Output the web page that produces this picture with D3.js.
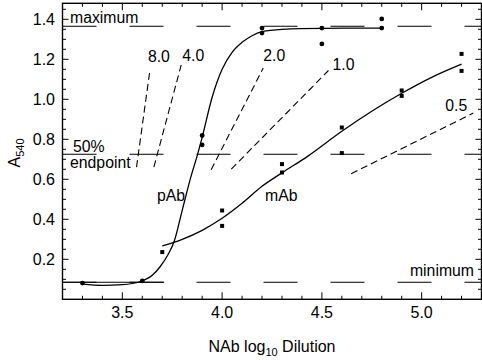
<!DOCTYPE html>
<html>
<head>
<meta charset="utf-8">
<script src="https://cdn.jsdelivr.net/npm/d3@7"></script>
<style>
  body { margin: 0; background: #fff; }
  svg { display: block; font-family: "Liberation Sans", Arial, Helvetica, sans-serif; }
</style>
</head>
<body>
<svg id="chart" width="482" height="360"></svg>
<script>
// ---- data ----
const xTicks = [3.5, 4.0, 4.5, 5.0];
const yTicks = [0.2, 0.4, 0.6, 0.8, 1.0, 1.2, 1.4];

// pAb measured points (circles)
const pAbX = [3.3, 3.6, 3.9, 3.9, 4.2, 4.2, 4.5, 4.5, 4.8, 4.8];
const pAbY = [0.081, 0.092, 0.819, 0.772, 1.356, 1.331, 1.356, 1.277, 1.402, 1.356];

// mAb measured points (squares)
const mAbX = [3.7, 4.0, 4.0, 4.3, 4.3, 4.6, 4.6, 4.9, 4.9, 5.2, 5.2];
const mAbY = [0.236, 0.444, 0.367, 0.676, 0.634, 0.859, 0.731, 1.044, 1.017, 1.227, 1.142];

// fitted curves
const pAbFitX = [3.30, 3.40, 3.50, 3.59, 3.65, 3.69, 3.73, 3.76, 3.80, 3.84, 3.877, 3.90, 3.95, 4.00, 4.05, 4.10, 4.15, 4.20, 4.30, 4.50, 4.80];
const pAbFitY = [0.076, 0.070, 0.073, 0.089, 0.120, 0.164, 0.225, 0.290, 0.445, 0.600, 0.725, 0.810, 1.010, 1.150, 1.235, 1.285, 1.318, 1.338, 1.350, 1.355, 1.356];
const mAbFitX = [3.70, 3.80, 3.90, 4.00, 4.10, 4.20, 4.30, 4.43, 4.60, 4.75, 4.90, 5.05, 5.20];
const mAbFitY = [0.267, 0.300, 0.345, 0.405, 0.480, 0.565, 0.632, 0.716, 0.840, 0.940, 1.030, 1.110, 1.176];

// reference levels
const refNames = ["maximum", "50% endpoint", "minimum"];
const refValues = [1.365, 0.725, 0.085];

// slope guide lines (label, x0, y0, x1, y1)
const slopeLabels = ["8.0", "4.0", "2.0", "1.0", "0.5"];
const slopeX0 = [3.571, 3.658, 3.945, 4.046, 4.647];
const slopeY0 = [0.661, 0.661, 0.648, 0.651, 0.628];
const slopeX1 = [3.638, 3.795, 4.206, 4.533, 5.259];
const slopeY1 = [1.144, 1.172, 1.156, 1.144, 0.931];

// ---- layout ----
const svg = d3.select("#chart");
const x = d3.scaleLinear().domain([3.2, 5.3]).range([62.5, 481.5]);
const y = d3.scaleLinear().domain([0, 1.48]).range([299.3, 3.3]);
const x0 = x.range()[0], x1 = x.range()[1], y0 = y.range()[0], y1 = y.range()[1];
const FS = 15.8;

// frame
svg.append("rect").attr("x", x0).attr("y", y1).attr("width", x1 - x0).attr("height", y0 - y1)
  .attr("fill", "none").attr("stroke", "#000").attr("stroke-width", 1.4);

// ticks (inward, mirrored)
const xMinor = d3.range(32, 54).map(d => d / 10);
const yMinor = d3.range(1, 30).map(d => d / 20);
const tickG = svg.append("g").attr("stroke", "#000").attr("stroke-width", 1);
xMinor.forEach(v => {
  const major = xTicks.some(t => Math.abs(t - v) < 1e-6);
  const L = major ? 7 : 3.5;
  tickG.append("line").attr("x1", x(v)).attr("x2", x(v)).attr("y1", y0).attr("y2", y0 - L);
  tickG.append("line").attr("x1", x(v)).attr("x2", x(v)).attr("y1", y1).attr("y2", y1 + L);
});
yMinor.forEach(v => {
  const major = yTicks.some(t => Math.abs(t - v) < 1e-6);
  const L = major ? 6 : 3.5;
  tickG.append("line").attr("y1", y(v)).attr("y2", y(v)).attr("x1", x0).attr("x2", x0 + L);
  tickG.append("line").attr("y1", y(v)).attr("y2", y(v)).attr("x1", x1).attr("x2", x1 - L);
});

// tick labels
svg.append("g").selectAll("text").data(xTicks).join("text")
  .attr("x", d => x(d)).attr("y", 318).attr("text-anchor", "middle")
  .attr("font-size", 16).text(d => d.toFixed(1));
svg.append("g").selectAll("text").data(yTicks).join("text")
  .attr("x", 55).attr("y", d => y(d)).attr("dy", "0.36em").attr("text-anchor", "end")
  .attr("font-size", 16).text(d => d.toFixed(1));

// axis titles
const yl = svg.append("text").attr("transform", "translate(20,153) rotate(-90)")
  .attr("text-anchor", "middle").attr("font-size", 16);
yl.append("tspan").text("A");
yl.append("tspan").attr("font-size", 11).attr("dy", 4).text("540");

const xl = svg.append("text").attr("x", 272).attr("y", 352).attr("text-anchor", "middle").attr("font-size", 16);
xl.append("tspan").text("NAb log");
xl.append("tspan").attr("font-size", 11).attr("dy", 4).text("10");
xl.append("tspan").attr("dy", -4).text(" Dilution");

// reference long-dash lines
svg.append("g").selectAll("line").data(refValues).join("line")
  .attr("x1", x0).attr("x2", x1).attr("y1", d => y(d)).attr("y2", d => y(d))
  .attr("stroke", "#000").attr("stroke-width", 1.1).attr("stroke-dasharray", "34,33");
svg.append("line").attr("x1", x0).attr("x2", x(3.71)).attr("y1", y(refValues[2])).attr("y2", y(refValues[2]))
  .attr("stroke", "#000").attr("stroke-width", 1.1);

// reference labels
svg.append("text").attr("x", 70).attr("y", 23).attr("font-size", FS).text("maximum");
svg.append("text").attr("x", 73).attr("y", 151.5).attr("font-size", FS).text("50%");
svg.append("text").attr("x", 70).attr("y", 167.5).attr("font-size", FS).text("endpoint");
svg.append("text").attr("x", 474).attr("y", 276).attr("text-anchor", "end").attr("font-size", FS).text("minimum");

// slope guide lines
slopeLabels.forEach((lab, i) => {
  svg.append("line").attr("x1", x(slopeX0[i])).attr("y1", y(slopeY0[i]))
    .attr("x2", x(slopeX1[i])).attr("y2", y(slopeY1[i]))
    .attr("stroke", "#000").attr("stroke-width", 1.1).attr("stroke-dasharray", "7,4");
});
const slopeLabelDx = [-2, 1, 0, 4, -28];
const slopeLabelDy = [-9, -4, -7, -1, -2];
slopeLabels.forEach((lab, i) => {
  svg.append("text").attr("x", x(slopeX1[i]) + slopeLabelDx[i]).attr("y", y(slopeY1[i]) + slopeLabelDy[i])
    .attr("font-size", FS).text(lab);
});

// fitted curves
const line = d3.line().x(d => x(d[0])).y(d => y(d[1])).curve(d3.curveMonotoneX);
svg.append("path").datum(d3.zip(pAbFitX, pAbFitY)).attr("d", line)
  .attr("fill", "none").attr("stroke", "#000").attr("stroke-width", 1.3);
svg.append("path").datum(d3.zip(mAbFitX, mAbFitY)).attr("d", line)
  .attr("fill", "none").attr("stroke", "#000").attr("stroke-width", 1.3);

// curve labels
svg.append("text").attr("x", 157).attr("y", 201).attr("font-size", FS).text("pAb");
svg.append("text").attr("x", 265).attr("y", 201).attr("font-size", FS).text("mAb");

// points
svg.append("g").selectAll("circle").data(d3.zip(pAbX, pAbY)).join("circle")
  .attr("cx", d => x(d[0])).attr("cy", d => y(d[1])).attr("r", 2.4).attr("fill", "#000");
svg.append("g").selectAll("rect").data(d3.zip(mAbX, mAbY)).join("rect")
  .attr("x", d => x(d[0]) - 2).attr("y", d => y(d[1]) - 2).attr("width", 4).attr("height", 4).attr("fill", "#000");
</script>
</body>
</html>
